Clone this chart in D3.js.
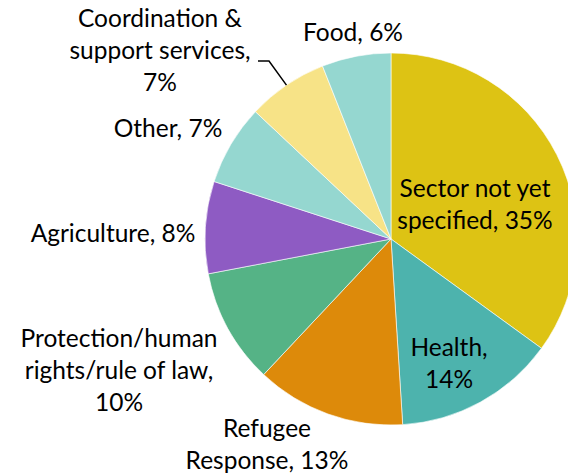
<!DOCTYPE html>
<html>
<head>
<meta charset="utf-8">
<script src="https://cdn.jsdelivr.net/npm/d3@7"></script>
<style>
  body { margin: 0; background: #fff; }
  text { font-family: Lato, "Open Sans", sans-serif; fill: #000; }
</style>
</head>
<body>
<script>
var width = 568
var height = 474

// chart data, clockwise from 12 o'clock
var sectors = ['Sector not yet specified', 'Health', 'Refugee Response', 'Protection/human rights/rule of law',
  'Agriculture', 'Other', 'Coordination & support services', 'Food']
var shares = [35, 14, 13, 10, 8, 7, 7, 6]
var labelLines = [
  ['Sector not yet', 'specified, 35%'],
  ['Health,', '14%'],
  ['Refugee', 'Response, 13%'],
  ['Protection/human', 'rights/rule of law,', '10%'],
  ['Agriculture, 8%'],
  ['Other, 7%'],
  ['Coordination &', 'support services,', '7%'],
  ['Food, 6%']
]
var colors = ['#ddc314', '#4db3ad', '#dd8a0a', '#55b386', '#8e5bc3', '#95d7d0', '#f7e387', '#95d7d0']

// where each label sits (centre x, first baseline y), relative to pie centre
var labelPos = [[84, -42], [58, 117], [-124, 198], [-272, 108], [-278, 3], [-223, -102], [-231, -212], [-38, -198]]

var cx = 391, cy = 239, radius = 186
var lineGap = 32

var svg = d3.select('body').append('svg')
  .attr('width', width)
  .attr('height', height)

var g = svg.append('g').attr('transform', 'translate(' + cx + ',' + cy + ')')

var pie = d3.pie().sort(null).value(d => d)
var arc = d3.arc().innerRadius(0).outerRadius(radius)

g.selectAll('path.slice')
  .data(pie(shares))
  .join('path')
  .attr('class', 'slice')
  .attr('d', arc)
  .attr('fill', (d, i) => colors[i])
  .attr('stroke', '#fff')
  .attr('stroke-width', 0.6)

// leader line for the coordination label
var coord = pie(shares)[6]
var mid = (coord.startAngle + coord.endAngle) / 2
var edge = [radius * Math.sin(mid), -radius * Math.cos(mid)]
g.append('polyline')
  .attr('points', [[-133, -178], [-122, -178], edge].map(p => p.join(',')).join(' '))
  .attr('fill', 'none')
  .attr('stroke', '#000')
  .attr('stroke-width', 1.5)

var labels = g.selectAll('text.lbl')
  .data(labelLines)
  .join('text')
  .attr('class', 'lbl')
  .attr('text-anchor', 'middle')
  .attr('font-size', 24.5)
  .attr('x', (d, i) => labelPos[i][0])
  .attr('y', (d, i) => labelPos[i][1])

labels.selectAll('tspan')
  .data((d, i) => d.map(t => ({ t: t, x: labelPos[i][0] })))
  .join('tspan')
  .attr('x', d => d.x)
  .attr('dy', (d, j) => j === 0 ? 0 : lineGap)
  .text(d => d.t)
</script>
</body>
</html>
